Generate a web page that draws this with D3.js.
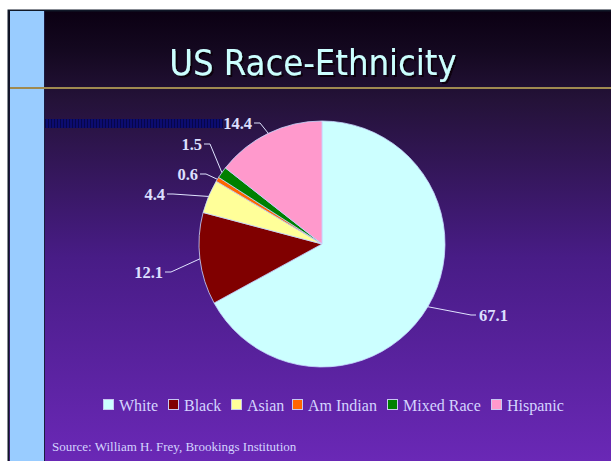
<!DOCTYPE html>
<html>
<head>
<meta charset="utf-8">
<script src="https://cdn.jsdelivr.net/npm/d3@7/dist/d3.min.js"></script>
<style>
  html, body { margin: 0; padding: 0; background: #fff; }
  svg { display: block; }
</style>
</head>
<body>
<div id="chart"></div>
<script>
const categories = ['White', 'Black', 'Asian', 'Am Indian', 'Mixed Race', 'Hispanic'];
const values = [67.1, 12.1, 4.4, 0.6, 1.5, 14.4];
const colors = ['#ccffff', '#800000', '#ffff99', '#ff6600', '#008000', '#ff99cc'];

// label anchor offsets from the pie centre (where the leader line meets the text)
const labelAt = [[154, 71], [-157, 28], [-155, -50], [-122, -70], [-118, -100], [-68, -121]];

const w = 611, h = 461;
const cx = 322, cy = 244, r = 123;

const svg = d3.select('#chart').append('svg')
  .attr('width', w)
  .attr('height', h);

const defs = svg.append('defs');
const grad = defs.append('linearGradient')
  .attr('id', 'bg')
  .attr('x1', 0).attr('y1', 0).attr('x2', 0).attr('y2', 1);
grad.append('stop').attr('offset', '0%').attr('stop-color', '#0b0012');
grad.append('stop').attr('offset', '9%').attr('stop-color', '#140820');
grad.append('stop').attr('offset', '20%').attr('stop-color', '#241238');
grad.append('stop').attr('offset', '55%').attr('stop-color', '#481c86');
grad.append('stop').attr('offset', '100%').attr('stop-color', '#6a28b6');

const pat = defs.append('pattern')
  .attr('id', 'dots')
  .attr('width', 3).attr('height', 3)
  .attr('patternUnits', 'userSpaceOnUse');
pat.append('rect').attr('width', 3).attr('height', 3).attr('fill', '#0c0c70');
pat.append('rect').attr('width', 1).attr('height', 3).attr('fill', '#06064a');

const shadow = defs.append('filter')
  .attr('id', 'shadow')
  .attr('x', '-5%').attr('y', '-20%')
  .attr('width', '110%').attr('height', '140%');
shadow.append('feDropShadow')
  .attr('dx', 2).attr('dy', 2)
  .attr('stdDeviation', 0.6)
  .attr('flood-color', '#10060c')
  .attr('flood-opacity', 1);

// background frame
svg.append('rect')
  .attr('x', 8).attr('y', 10)
  .attr('width', w - 8).attr('height', h - 10)
  .attr('fill', 'url(#bg)');
svg.append('rect')
  .attr('x', 8.5).attr('y', 10.5)
  .attr('width', w).attr('height', h)
  .attr('fill', 'none')
  .attr('stroke', '#101828')
  .attr('stroke-width', 2);
svg.append('rect')
  .attr('x', 10).attr('y', 11)
  .attr('width', 34).attr('height', h - 11)
  .attr('fill', '#99ccff');
svg.append('line')
  .attr('x1', 44.5).attr('x2', 44.5)
  .attr('y1', 11).attr('y2', h)
  .attr('stroke', '#1a1a40');

// title
svg.append('text')
  .attr('x', 313).attr('y', 75)
  .attr('text-anchor', 'middle')
  .style('font-family', 'DejaVu Sans Condensed, DejaVu Sans, sans-serif')
  .style('font-size', '36px')
  .attr('fill', '#ccffff')
  .attr('filter', 'url(#shadow)')
  .text('US Race-Ethnicity');

svg.append('line')
  .attr('x1', 10).attr('x2', w)
  .attr('y1', 88).attr('y2', 88)
  .attr('stroke', '#a08a50')
  .attr('stroke-width', 2);

svg.append('rect')
  .attr('x', 45).attr('y', 119)
  .attr('width', 178).attr('height', 9)
  .attr('fill', 'url(#dots)');

// pie
const pie = d3.pie().sort(null).value(d => d);
const arcs = pie(values);
const arc = d3.arc().innerRadius(0).outerRadius(r);

const g = svg.append('g').attr('transform', `translate(${cx},${cy})`);

g.selectAll('path')
  .data(arcs)
  .enter()
  .append('path')
  .attr('d', arc)
  .attr('fill', (d, i) => colors[i])
  .attr('stroke', '#c8d8ff')
  .attr('stroke-width', 0.8);

// leader lines and labels
arcs.forEach((d, i) => {
  const a = (d.startAngle + d.endAngle) / 2;
  const ex = Math.sin(a) * r, ey = -Math.cos(a) * r;
  const lx = labelAt[i][0], ly = labelAt[i][1];
  const right = lx > 0;
  const kx = lx + (right ? -5 : 6);
  g.append('polyline')
    .attr('points', [[ex, ey], [kx, ly], [lx, ly]].map(p => p.join(',')).join(' '))
    .attr('fill', 'none')
    .attr('stroke', '#e0e4ff')
    .attr('stroke-width', 1);
  g.append('text')
    .attr('x', lx + (right ? 3 : -2))
    .attr('y', ly)
    .attr('dy', '0.35em')
    .attr('text-anchor', right ? 'start' : 'end')
    .style('font-family', 'Liberation Serif, Times New Roman, serif')
    .style('font-weight', 'bold')
    .style('font-size', '16.5px')
    .attr('fill', '#dde0ff')
    .text(d3.format('.1f')(values[i]));
});

// legend
const legendX = [103, 168, 231, 292, 387, 491];
const legend = svg.append('g').attr('id', 'legend');
categories.forEach((c, i) => {
  legend.append('rect')
    .attr('x', legendX[i] + 0.5).attr('y', 399.5)
    .attr('width', 10).attr('height', 10)
    .attr('fill', colors[i])
    .attr('stroke', '#c8c8f0')
    .attr('stroke-width', 1);
  legend.append('text')
    .attr('x', legendX[i] + 16).attr('y', 411)
    .style('font-family', 'Liberation Serif, Times New Roman, serif')
    .style('font-size', '16px')
    .attr('fill', '#d4d4ff')
    .text(c);
});

svg.append('text')
  .attr('x', 52).attr('y', 451)
  .style('font-family', 'Liberation Serif, Times New Roman, serif')
  .style('font-size', '13px')
  .attr('fill', '#d4d4ff')
  .text('Source: William H. Frey, Brookings Institution');
</script>
</body>
</html>
